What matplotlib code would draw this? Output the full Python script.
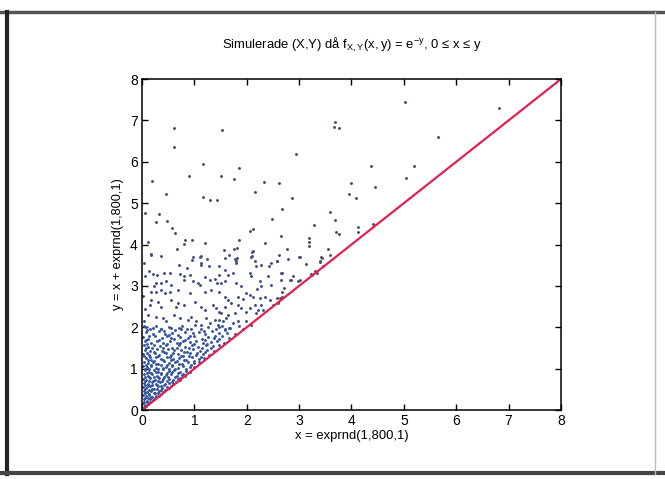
import matplotlib as mpl
mpl.use("Agg")
import matplotlib.pyplot as plt
from matplotlib.lines import Line2D
import numpy as np

plt.rcParams['font.family'] = ['Liberation Sans', 'DejaVu Sans']
plt.rcParams['mathtext.default'] = 'regular'

# sparse points, upper part of the triangle
x_upper = [0.62, 0.62, 1.53, 0.20, 0.90, 1.16, 1.51, 1.86, 1.76, 2.16, 2.33, 2.61, 2.95,
           3.68, 3.66, 3.77, 0.46, 1.17, 1.30, 1.43, 2.87, 2.67, 4.00, 3.95, 4.08, 3.59,
           3.68, 4.12, 4.13, 3.70, 3.77, 3.28, 2.49, 2.65, 3.18, 2.12, 2.07, 0.06, 0.27,
           0.33, 0.48, 0.57, 0.63, 0.83, 0.96, 1.85, 5.02, 6.82, 5.66, 4.37, 5.20, 5.05,
           4.44, 4.42, 1.20, 0.66, 0.80, 0.11, 1.56, 1.76, 1.81, 2.35, 2.77, 2.12, 3.18,
           3.19, 3.56, 3.02, 3.41, 3.39, 3.14, 3.46, 3.23, 3.35, 2.98, 3.24, 3.30, 3.40,
           3.43, 3.59, 2.84, 2.89, 2.57, 2.67, 2.60, 0.17, 1.12, 1.13, 1.58, 1.81, 1.79,
           2.08, 2.16, 2.28, 2.57, 2.67]
y_upper = [6.81, 6.35, 6.78, 5.54, 5.65, 5.95, 5.65, 5.84, 5.59, 5.28, 5.50, 5.49, 6.19,
           6.97, 6.83, 6.81, 5.21, 5.16, 5.08, 5.08, 5.13, 4.87, 5.49, 5.21, 5.13, 4.79,
           4.60, 4.43, 4.30, 4.30, 4.25, 4.47, 4.62, 4.21, 4.15, 4.38, 4.33, 4.75, 4.54,
           4.73, 4.58, 4.41, 4.28, 4.12, 4.12, 4.12, 7.45, 7.31, 6.59, 5.91, 5.91, 5.62,
           5.38, 4.50, 4.03, 3.90, 4.01, 4.06, 3.86, 3.88, 3.91, 4.04, 3.90, 3.84, 4.05,
           3.97, 3.88, 3.71, 3.69, 3.58, 3.53, 3.49, 3.28, 3.30, 3.13, 3.27, 3.35, 3.59,
           3.67, 3.75, 3.15, 3.23, 2.70, 2.86, 2.62, 3.78, 3.73, 3.55, 3.67, 3.67, 3.59,
           3.71, 3.59, 3.51, 3.59, 3.31]

# middle band, y roughly 2..4
x_mid = [0.18, 0.36, 0.97, 0.95, 1.10, 1.25, 1.13, 0.70, 1.28, 1.47, 0.86, 0.13, 0.21,
         0.29, 0.43, 0.54, 0.72, 0.80, 0.80, 0.92, 0.97, 1.07, 1.10, 1.20, 1.29, 1.40,
         1.44, 1.48, 0.27, 0.37, 0.46, 0.56, 0.18, 0.27, 0.36, 0.23, 0.44, 0.53, 0.69,
         0.91, 1.20, 1.32, 1.48, 0.18, 0.15, 0.31, 0.37, 0.56, 0.69, 0.65, 0.81, 1.01,
         1.13, 1.20, 1.35, 1.42, 1.48, 0.11, 0.27, 0.40, 0.46, 0.62, 0.72, 0.88, 0.94,
         1.04, 1.13, 1.23, 1.29, 1.39, 1.45, 0.08, 0.21, 0.37, 0.56, 0.75, 0.94,
         1.67, 1.78, 1.80, 2.11, 2.11, 2.61, 2.79, 3.00, 2.46, 2.42, 2.58, 2.18, 1.58,
         1.64, 1.74, 2.06, 2.09, 2.25, 2.40, 2.47, 2.65, 2.66, 2.82, 3.01, 1.51, 1.58,
         1.80, 1.89, 2.28, 2.19, 2.72, 1.99, 2.06, 2.12, 1.83, 1.93, 1.58, 1.64, 2.25,
         2.34, 2.28, 2.44, 2.50, 2.60, 2.63, 2.68, 2.15, 2.21, 2.18, 2.31, 2.06, 1.99,
         1.83, 1.89, 1.70, 1.58, 1.77, 1.64, 1.51, 1.48, 1.55, 1.61, 1.74, 1.83, 1.99,
         2.09, 1.48, 1.58, 1.67, 0.03, 0.05, 0.02, 0.06, 0.04]
y_mid = [3.75, 3.73, 3.71, 3.63, 3.70, 3.65, 3.51, 3.51, 3.49, 3.49, 3.43, 3.35, 3.29,
         3.27, 3.31, 3.32, 3.29, 3.23, 3.15, 3.27, 3.11, 3.07, 3.03, 3.21, 3.15, 3.16,
         3.07, 3.27, 3.08, 3.07, 3.11, 3.03, 2.86, 2.86, 2.89, 2.99, 2.82, 2.86, 2.91,
         2.82, 2.86, 2.91, 2.85, 2.66, 2.54, 2.60, 2.49, 2.66, 2.58, 2.50, 2.54, 2.62,
         2.50, 2.42, 2.54, 2.46, 2.38, 2.30, 2.26, 2.22, 2.14, 2.30, 2.22, 2.18, 2.26,
         2.14, 2.06, 2.22, 2.11, 2.18, 2.06, 2.00, 1.98, 1.95, 1.99, 1.95, 1.97,
         3.75, 3.65, 3.55, 3.83, 3.73, 3.74, 3.65, 3.70, 3.55, 3.49, 3.59, 3.49, 3.39,
         3.27, 3.32, 3.31, 3.23, 3.11, 3.23, 3.03, 3.31, 3.15, 3.15, 3.15, 3.07, 3.11,
         3.07, 3.00, 2.99, 2.92, 2.95, 2.82, 2.78, 2.74, 2.74, 2.68, 2.74, 2.66, 2.70,
         2.74, 2.54, 2.66, 2.54, 2.58, 2.70, 2.72, 2.54, 2.42, 2.34, 2.42, 2.46, 2.38,
         2.54, 2.46, 2.58, 2.50, 2.34, 2.30, 2.34, 2.18, 2.14, 2.22, 2.10, 2.16, 2.14,
         2.06, 2.00, 1.95, 1.98, 2.15, 2.45, 2.75, 3.25, 3.55]

# dense corner, y below 2
x_low = [0.04, 0.15, 0.27, 0.36, 0.51, 0.63, 0.77, 0.86, 1.01, 1.12, 1.27, 1.41, 1.53, 1.69, 1.86, 1.93,
         0.08, 0.21, 0.33, 0.44, 0.58, 0.69, 0.82, 0.97, 1.09, 1.21, 1.34, 1.47, 1.62, 1.78,
         0.02, 0.12, 0.25, 0.39, 0.47, 0.61, 0.73, 0.88, 0.99, 1.14, 1.26, 1.38, 1.52, 1.66,
         0.06, 0.17, 0.29, 0.41, 0.54, 0.66, 0.79, 0.91, 1.04, 1.17, 1.31, 1.44, 1.57,
         0.03, 0.11, 0.23, 0.35, 0.46, 0.57, 0.71, 0.83, 0.95, 1.07, 1.22, 1.36, 1.48,
         0.05, 0.16, 0.28, 0.38, 0.49, 0.62, 0.74, 0.86, 0.98, 1.11, 1.24, 1.37,
         0.02, 0.13, 0.24, 0.33, 0.45, 0.56, 0.68, 0.79, 0.92, 1.03, 1.16, 1.28,
         0.07, 0.18, 0.26, 0.37, 0.48, 0.59, 0.71, 0.84, 0.95, 1.08, 1.19,
         0.04, 0.12, 0.21, 0.31, 0.42, 0.52, 0.63, 0.76, 0.87, 0.99, 1.09,
         0.02, 0.09, 0.17, 0.27, 0.36, 0.46, 0.57, 0.68, 0.79, 0.91, 0.99,
         0.05, 0.14, 0.22, 0.31, 0.41, 0.51, 0.62, 0.73, 0.84, 0.91,
         0.03, 0.11, 0.19, 0.28, 0.37, 0.46, 0.56, 0.66, 0.76, 0.82,
         0.02, 0.08, 0.16, 0.24, 0.33, 0.41, 0.51, 0.59, 0.68, 0.73,
         0.04, 0.11, 0.19, 0.27, 0.35, 0.44, 0.52, 0.60,
         0.02, 0.08, 0.15, 0.23, 0.31, 0.39, 0.47, 0.52,
         0.03, 0.10, 0.17, 0.25, 0.33, 0.40,
         0.02, 0.07, 0.13, 0.20, 0.27, 0.32,
         0.03, 0.09, 0.15, 0.21,
         0.02, 0.06, 0.11,
         0.01, 0.03]
y_low = [2.02, 1.97, 2.04, 1.96, 2.01, 1.94, 2.03, 1.97, 2.05, 1.95, 2.01, 1.96, 2.03, 1.99, 2.02, 1.97,
         1.88, 1.84, 1.90, 1.83, 1.87, 1.82, 1.89, 1.85, 1.88, 1.83, 1.90, 1.85, 1.87, 1.84,
         1.76, 1.72, 1.78, 1.74, 1.79, 1.71, 1.77, 1.73, 1.78, 1.72, 1.76, 1.74, 1.78, 1.73,
         1.66, 1.62, 1.68, 1.63, 1.67, 1.61, 1.66, 1.64, 1.68, 1.62, 1.65, 1.67, 1.62,
         1.57, 1.52, 1.58, 1.54, 1.56, 1.51, 1.57, 1.53, 1.58, 1.52, 1.56, 1.54, 1.56,
         1.46, 1.43, 1.47, 1.42, 1.48, 1.44, 1.46, 1.41, 1.47, 1.43, 1.46, 1.42,
         1.36, 1.33, 1.38, 1.32, 1.37, 1.34, 1.36, 1.31, 1.37, 1.33, 1.36, 1.32,
         1.26, 1.22, 1.28, 1.23, 1.27, 1.24, 1.26, 1.22, 1.27, 1.23, 1.25,
         1.16, 1.13, 1.17, 1.12, 1.18, 1.14, 1.16, 1.12, 1.17, 1.13, 1.15,
         1.06, 1.03, 1.07, 1.02, 1.08, 1.04, 1.06, 1.02, 1.07, 1.03, 1.04,
         0.96, 0.93, 0.97, 0.92, 0.98, 0.94, 0.96, 0.92, 0.95, 0.93,
         0.86, 0.83, 0.87, 0.82, 0.88, 0.84, 0.86, 0.82, 0.84, 0.83,
         0.76, 0.73, 0.77, 0.72, 0.78, 0.74, 0.76, 0.72, 0.74, 0.73,
         0.66, 0.63, 0.67, 0.62, 0.68, 0.64, 0.66, 0.63,
         0.56, 0.53, 0.57, 0.52, 0.58, 0.54, 0.55, 0.53,
         0.46, 0.43, 0.47, 0.42, 0.46, 0.44,
         0.36, 0.33, 0.37, 0.32, 0.35, 0.34,
         0.26, 0.23, 0.27, 0.24,
         0.16, 0.13, 0.15,
         0.06, 0.05]

# more of the dense corner, between the rows above
x_low2 = [0.09, 0.42, 0.71, 1.18, 1.58,
          0.14, 0.52, 0.91, 1.40,
          0.07, 0.33, 0.55, 0.83, 1.20, 1.47,
          0.10, 0.47, 0.72, 0.99, 1.25,
          0.08, 0.20, 0.41, 0.66, 0.89, 1.15, 1.32,
          0.10, 0.22, 0.43, 0.59, 0.81, 1.05, 1.20,
          0.04, 0.15, 0.30, 0.53, 0.75, 0.89, 1.12,
          0.11, 0.23, 0.41, 0.55, 0.67, 0.80, 1.00,
          0.07, 0.17, 0.26, 0.47, 0.58, 0.71, 0.94,
          0.05, 0.13, 0.31, 0.41, 0.52, 0.63, 0.85,
          0.09, 0.18, 0.26, 0.36, 0.47, 0.57, 0.69, 0.79,
          0.06, 0.14, 0.22, 0.30, 0.42, 0.50, 0.63, 0.72,
          0.05, 0.13, 0.21, 0.30, 0.38, 0.48, 0.57, 0.65,
          0.06, 0.12, 0.20, 0.28, 0.36, 0.43, 0.55,
          0.05, 0.13, 0.20, 0.28, 0.36, 0.44,
          0.06, 0.14, 0.22, 0.30, 0.36,
          0.05, 0.11, 0.18, 0.25,
          0.04, 0.09, 0.15,
          0.05, 0.08]
y_low2 = [1.93, 1.92, 1.99, 1.91, 1.93,
          1.80, 1.81, 1.79, 1.80,
          1.69, 1.70, 1.73, 1.69, 1.69, 1.71,
          1.59, 1.60, 1.62, 1.60, 1.59,
          1.49, 1.51, 1.50, 1.49, 1.50, 1.49, 1.50,
          1.39, 1.41, 1.40, 1.39, 1.40, 1.39, 1.41,
          1.30, 1.29, 1.31, 1.29, 1.30, 1.31, 1.29,
          1.20, 1.19, 1.21, 1.20, 1.19, 1.21, 1.19,
          1.10, 1.09, 1.11, 1.10, 1.09, 1.11, 1.09,
          1.00, 0.99, 1.00, 1.01, 0.99, 1.00, 0.98,
          0.90, 0.89, 0.91, 0.90, 0.89, 0.91, 0.89, 0.88,
          0.80, 0.79, 0.81, 0.80, 0.79, 0.81, 0.79, 0.78,
          0.70, 0.69, 0.71, 0.70, 0.69, 0.70, 0.68, 0.67,
          0.60, 0.59, 0.61, 0.60, 0.59, 0.60, 0.58,
          0.50, 0.49, 0.51, 0.50, 0.49, 0.48,
          0.40, 0.39, 0.41, 0.40, 0.38,
          0.30, 0.29, 0.31, 0.28,
          0.20, 0.19, 0.20,
          0.10, 0.09]

line_x = [0, 8]
line_y = [0, 8]

fig = plt.figure(figsize=(6.65, 4.79), dpi=100)
ax = fig.add_axes([0.2135, 0.144, 0.6301, 0.691])

pts_color = '#3556a0'
ax.plot(x_upper, y_upper, '.', color='#4a4e66', ms=2.2)
ax.plot(x_mid, y_mid, '.', color='#3f4f86', ms=2.2)
ax.plot(x_low, y_low, '.', color=pts_color, ms=2.2)
ax.plot(x_low2, y_low2, '.', color=pts_color, ms=2.2)
ax.plot(line_x, line_y, color='#e3214f', lw=1.6)

ax.set_xlim(0, 8)
ax.set_ylim(0, 8)
ax.set_xticks(range(9))
ax.set_yticks(range(9))
ax.tick_params(direction='in', top=True, right=True, length=4, width=1,
               labelsize=10, pad=3)
for s in ax.spines.values():
    s.set_linewidth(1.1)

ax.set_title(r'Simulerade (X,Y) då $f_{X,Y}(x,y)$ = $e^{-y}$, 0 ≤ x ≤ y',
             fontsize=9.4, pad=22)
ax.set_xlabel('x = exprnd(1,800,1)', fontsize=9.4, labelpad=1)
ax.set_ylabel('y = x + exprnd(1,800,1)', fontsize=9.2, labelpad=4)

# edges of the scanned page
fig.add_artist(Line2D([0, 1], [0.975, 0.975], color='#555555', lw=2.5))
fig.add_artist(Line2D([0.01, 0.01], [0.01, 0.975], color='#222222', lw=3))
fig.add_artist(Line2D([0, 1], [0.013, 0.013], color='#444444', lw=3))
fig.add_artist(Line2D([0.985, 0.985], [0.01, 0.975], color='#bbbbbb', lw=1))

plt.savefig('out.png', dpi=100)
